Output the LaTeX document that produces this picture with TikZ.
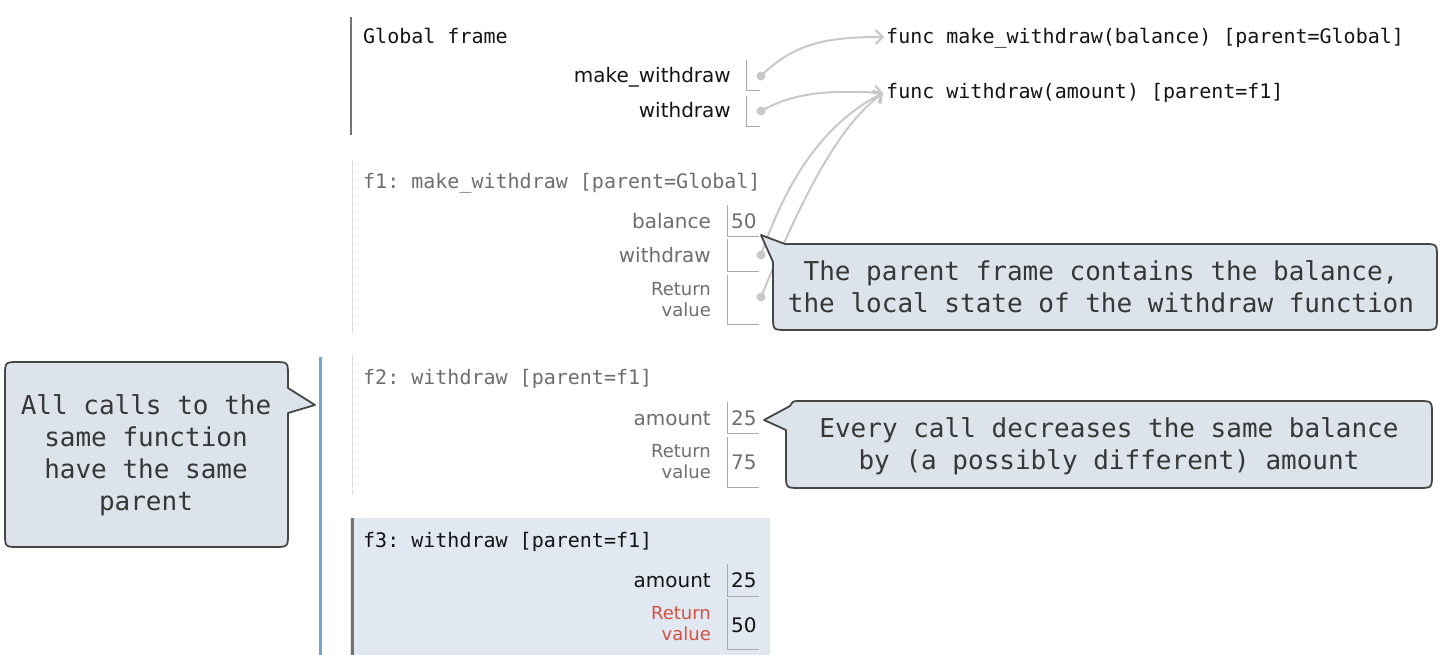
\documentclass[tikz,border=0pt]{standalone}
\usepackage{fontspec}
\setmonofont{DejaVu Sans Mono}
\setsansfont{DejaVu Sans}
\usetikzlibrary{arrows.meta}
\definecolor{calfill}{RGB}{220,227,235}
\definecolor{calline}{RGB}{70,70,70}
\definecolor{caltext}{RGB}{55,55,55}
\definecolor{fthreebg}{RGB}{225,232,242}
\definecolor{bluebar}{RGB}{115,165,205}
\definecolor{ptrgray}{RGB}{200,200,200}
\definecolor{boxgray}{RGB}{170,170,170}
\definecolor{dimtext}{RGB}{110,110,110}
\definecolor{rettext}{RGB}{212,80,64}
\definecolor{darkbar}{RGB}{115,115,115}
\definecolor{blacktext}{RGB}{20,20,20}
\begin{document}
\begin{tikzpicture}[x=1pt,y=-1pt,
  mono/.style={font=\ttfamily\fontsize{20}{24}\selectfont, inner sep=0pt, anchor=base west},
  lab/.style={font=\sffamily\fontsize{20}{24}\selectfont, inner sep=0pt, anchor=base east},
  retlab/.style={font=\sffamily\fontsize{18}{21}\selectfont, inner sep=0pt, anchor=east, align=right},
  val/.style={font=\sffamily\fontsize{20}{24}\selectfont, inner sep=0pt, anchor=base west},
  calltext/.style={font=\ttfamily\fontsize{26}{32}\selectfont, text=caltext, align=center, inner sep=0pt},
  callout/.style={fill=calfill, draw=calline, line width=1.8pt, line join=round},
  varbox/.style={draw=boxgray, line width=1pt},
  dot/.style={circle, fill=ptrgray, minimum size=9pt, inner sep=0pt},
  ptr/.style={draw=ptrgray, line width=2pt, -{Straight Barb[length=7pt,width=14pt]}},
]
\useasboundingbox (0,0) rectangle (1442,655);

% ---------- frame backgrounds and bars ----------
\fill[fthreebg] (350,518) rectangle (770,655);
\draw[darkbar, line width=2pt] (351,17) -- (351,135);
\draw[boxgray!70, line width=1pt, dash pattern=on 1pt off 1pt] (352,160) -- (352,333);
\draw[boxgray!70, line width=1pt, dash pattern=on 1pt off 1pt] (352,355) -- (352,495);
\draw[darkbar, line width=3pt] (352,518) -- (352,655);
\draw[bluebar, line width=3pt] (320,357) -- (320,655);

% ---------- Global frame ----------
\node[mono, text=blacktext] (gtitle) at (363,44) {Global frame};
\node[lab, text=blacktext] (gmw) at (731,83) {make\_withdraw};
\node[lab, text=blacktext] (gw) at (731,118) {withdraw};
\draw[varbox] (746,60) -- (746,91) -- (760,91);
\draw[varbox] (746,96) -- (746,127) -- (760,127);
\node[dot] (dmw) at (761,76) {};
\node[dot] (dw) at (761,111) {};

% ---------- function objects ----------
\node[mono, text=blacktext] (fmw) at (886,44) {func make\_withdraw(balance) [parent=Global]};
\node[mono, text=blacktext] (fw) at (886,99) {func withdraw(amount) [parent=f1]};
\coordinate (fmwtip) at (884,37);
\coordinate (fwtip) at (883,93);

% ---------- f1 ----------
\node[mono, text=dimtext] (fonetitle) at (363,189) {f1: make\_withdraw [parent=Global]};
\node[lab, text=dimtext] (fonebal) at (711,228) {balance};
\node[val, text=dimtext] (fonebalv) at (731,228) {50};
\node[lab, text=dimtext] (fonew) at (711,262) {withdraw};
\node[retlab, text=dimtext] (foneret) at (711,300) {Return\\value};
\draw[varbox] (727,205) -- (727,236) -- (759,236);
\draw[varbox] (727,239) -- (727,271) -- (759,271);
\draw[varbox] (727,275) -- (727,324) -- (759,324);
\node[dot] (donew) at (761,255) {};
\node[dot] (doneret) at (761,297) {};

% ---------- f2 ----------
\node[mono, text=dimtext] (ftwotitle) at (363,384) {f2: withdraw [parent=f1]};
\node[lab, text=dimtext] (ftwoamt) at (711,425) {amount};
\node[val, text=dimtext] (ftwoamtv) at (731,425) {25};
\node[retlab, text=dimtext] (ftworet) at (711,462) {Return\\value};
\node[val, text=dimtext] (ftworetv) at (731,469) {75};
\draw[varbox] (727,402) -- (727,433) -- (759,433);
\draw[varbox] (727,437) -- (727,487) -- (759,487);

% ---------- f3 ----------
\node[mono, text=blacktext] (fthreetitle) at (363,547) {f3: withdraw [parent=f1]};
\node[lab, text=blacktext] (fthreeamt) at (711,587) {amount};
\node[val, text=blacktext] (fthreeamtv) at (731,587) {25};
\node[retlab, text=rettext] (fthreeret) at (711,624) {Return\\value};
\node[val, text=blacktext] (fthreeretv) at (731,632) {50};
\draw[varbox] (727,564) -- (727,596) -- (759,596);
\draw[varbox] (727,599) -- (727,649) -- (759,649);

% ---------- pointers ----------
\draw[ptr] (dmw.center) .. controls (795,42) and (830,37) .. (fmwtip);
\draw[ptr] (dw.center) .. controls (795,92) and (830,90) .. (fwtip);
\draw[ptr] (donew.center) .. controls (790,170) and (830,120) .. (fwtip);
\draw[ptr] (doneret.center) .. controls (805,190) and (840,125) .. (fwtip);

% ---------- callouts ----------
\draw[callout] (761,235) -- (785,244) -- (1423,244) .. controls (1437,244) .. (1437,258)
  -- (1437,316) .. controls (1437,330) .. (1423,330) -- (787,330) .. controls (773,330) .. (773,316)
  -- (773,262) -- cycle;
\node[calltext] (cone) at (1101,287) {The parent frame contains the balance,\\the local state of the withdraw function};

\draw[callout] (764,420) -- (790,406) .. controls (793,401) .. (800,401) -- (1418,401)
  .. controls (1432,401) .. (1432,415) -- (1432,474) .. controls (1432,488) .. (1418,488)
  -- (800,488) .. controls (786,488) .. (786,474) -- (786,430) -- cycle;
\node[calltext] (ctwo) at (1109,446) {Every call decreases the same balance\\by (a possibly different) amount};

\draw[callout] (19,362) -- (274,362) .. controls (288,362) .. (288,376) -- (288,388)
  -- (315,405) -- (288,413) -- (288,533) .. controls (288,547) .. (274,547)
  -- (19,547) .. controls (5,547) .. (5,533) -- (5,376) .. controls (5,362) .. (19,362) -- cycle;
\node[calltext] (cthree) at (146,455) {All calls to the\\same function\\have the same\\parent};
\end{tikzpicture}
\end{document}
